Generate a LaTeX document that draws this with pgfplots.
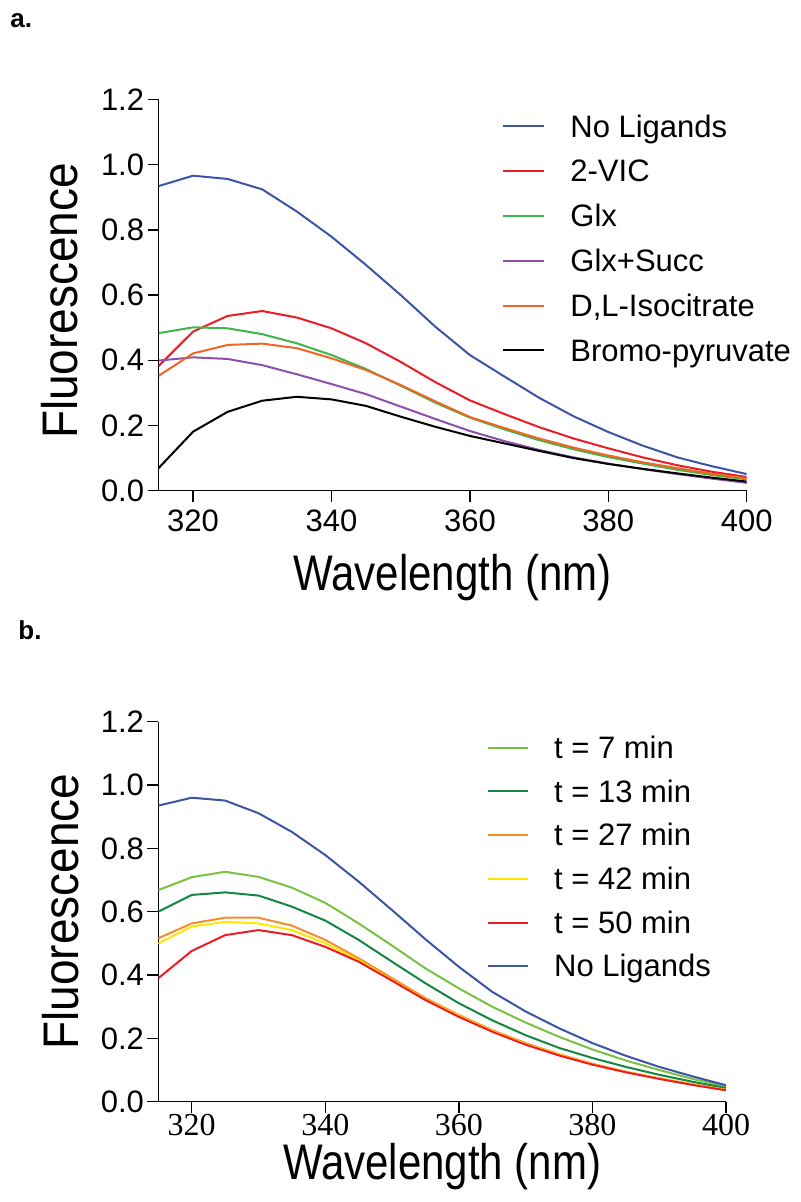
\documentclass[border=0pt]{standalone}
\usepackage{fontspec}
\setmainfont{Liberation Sans}
\newfontfamily\seriffont{Liberation Serif}
\usepackage{graphicx}
\usepackage{pgfplots}
\usepackage{pgfplotstable}
\pgfplotsset{compat=1.18}

\definecolor{cblue}{RGB}{59,84,164}
\definecolor{cred}{RGB}{237,28,36}
\definecolor{cgreen}{RGB}{64,180,75}
\definecolor{cpurple}{RGB}{140,80,170}
\definecolor{corange}{RGB}{242,101,34}
\definecolor{clgreen}{RGB}{122,193,67}
\definecolor{cdgreen}{RGB}{20,135,65}
\definecolor{corangeb}{RGB}{247,140,45}
\definecolor{cyellow}{RGB}{255,230,0}

\pgfplotstableread{
x blue red green purple orange black
315 0.934 0.382 0.483 0.399 0.352 0.069
320 0.966 0.488 0.501 0.409 0.421 0.181
325 0.956 0.536 0.498 0.404 0.447 0.242
330 0.924 0.551 0.480 0.385 0.451 0.276
335 0.856 0.531 0.452 0.357 0.437 0.288
340 0.779 0.498 0.416 0.327 0.406 0.280
345 0.692 0.452 0.373 0.296 0.370 0.260
350 0.600 0.395 0.322 0.258 0.324 0.227
355 0.503 0.333 0.270 0.220 0.274 0.196
360 0.416 0.277 0.224 0.183 0.226 0.168
365 0.350 0.235 0.188 0.152 0.192 0.145
370 0.285 0.195 0.155 0.125 0.160 0.122
375 0.228 0.160 0.127 0.102 0.132 0.100
380 0.180 0.130 0.103 0.083 0.108 0.082
385 0.138 0.102 0.083 0.066 0.087 0.067
390 0.102 0.078 0.064 0.051 0.069 0.053
395 0.075 0.058 0.048 0.037 0.052 0.040
400 0.051 0.042 0.035 0.024 0.038 0.028
}\dataA

\pgfplotstableread{
x lg dg or ye rd bl
315 0.668 0.600 0.516 0.500 0.390 0.935
320 0.709 0.653 0.563 0.553 0.476 0.960
325 0.726 0.661 0.581 0.568 0.526 0.951
330 0.710 0.651 0.581 0.563 0.542 0.911
335 0.676 0.616 0.556 0.542 0.526 0.852
340 0.628 0.572 0.511 0.500 0.489 0.779
345 0.563 0.511 0.453 0.447 0.442 0.695
350 0.493 0.442 0.390 0.384 0.382 0.605
355 0.421 0.374 0.327 0.323 0.321 0.513
360 0.358 0.311 0.274 0.271 0.268 0.426
365 0.300 0.257 0.226 0.223 0.221 0.347
370 0.250 0.210 0.185 0.182 0.180 0.285
375 0.205 0.170 0.150 0.148 0.146 0.232
380 0.165 0.138 0.120 0.118 0.117 0.185
385 0.130 0.110 0.095 0.094 0.093 0.145
390 0.100 0.085 0.074 0.073 0.072 0.110
395 0.072 0.063 0.055 0.054 0.053 0.080
400 0.048 0.043 0.038 0.037 0.036 0.052
}\dataB

\pgfplotsset{
  fluo/.style={
    scale only axis,
    xmin=315, xmax=400, ymin=0, ymax=1.2,
    axis x line*=bottom, axis y line*=left,
    axis line style={line width=0.7pt},
    tick style={black, line width=0.7pt},
    major tick length=5.5pt, tick align=outside,
    xtick={320,340,360,380,400},
    ytick={0,0.2,0.4,0.6,0.8,1.0,1.2},
    minor tick num=0,
    /pgf/number format/assume math mode=true,
    yticklabel={\pgfmathprintnumber[fixed,fixed zerofill,precision=1]{\tick}},
    yticklabel style={font=\fontsize{15.5}{18}\selectfont, inner xsep=1.5pt},
    xticklabel style={font=\fontsize{15.5}{18}\selectfont, inner ysep=4pt},
    ylabel={Fluorescence},
    xlabel={\scalebox{0.84}[1]{Wavelength (nm)}},
    label style={font=\fontsize{25}{30}\selectfont},
    legend cell align=left,
    legend image code/.code={\draw[#1] (0pt,0pt) -- (20.5pt,0pt);},
    every axis plot/.append style={line width=1pt},
  }
}

\begin{document}
\begin{tikzpicture}
\useasboundingbox (0pt,0pt) rectangle (400.5pt,-601pt);
\node[anchor=base west, font=\bfseries\fontsize{13}{15}\selectfont, inner sep=0pt] at (5pt,-13.6pt) {a.};
\node[anchor=base west, font=\bfseries\fontsize{13}{15}\selectfont, inner sep=0pt] at (9pt,-319.5pt) {b.};

\begin{axis}[fluo,
  at={(79.25pt,-245.35pt)}, anchor=south west,
  width=294.1pt, height=195.65pt,
  xlabel style={at={(axis description cs:0.5,-0.254)}, anchor=base},
  ylabel style={at={(axis description cs:-0.137,0.485)}, anchor=base, rotate=0, xscale=0.92},
  legend style={draw=none, fill=none, inner sep=0pt, at={(axis description cs:0.5835,0.9594)}, anchor=north west,
    font=\fontsize{15.5}{18}\selectfont, row sep=11.7pt,
    nodes={inner sep=0pt, text height=10.7pt, text depth=0pt},
    /tikz/every odd column/.append style={column sep=12.65pt}},
]
\addplot[cblue] table[x=x,y=blue]{\dataA};
\addlegendentry{No Ligands}
\addplot[cred] table[x=x,y=red]{\dataA};
\addlegendentry{2-VIC}
\addplot[cgreen] table[x=x,y=green]{\dataA};
\addlegendentry{Glx}
\addplot[cpurple] table[x=x,y=purple]{\dataA};
\addlegendentry{Glx+Succ}
\addplot[corange] table[x=x,y=orange]{\dataA};
\addlegendentry{D,L-Isocitrate}
\addplot[black] table[x=x,y=black]{\dataA};
\addlegendentry{Bromo-pyruvate}
\end{axis}

\begin{axis}[fluo,
  at={(79.15pt,-550.85pt)}, anchor=south west,
  width=283.85pt, height=190pt,
  xticklabel style={font=\seriffont\fontsize{16}{19}\selectfont, inner ysep=0.5pt},
  xlabel style={at={(axis description cs:0.5,-0.2034)}, anchor=base},
  ylabel style={at={(axis description cs:-0.1405,0.5)}, anchor=base, rotate=0, xscale=0.92},
  legend style={draw=none, fill=none, inner sep=0pt, at={(axis description cs:0.5785,0.9608)}, anchor=north west,
    font=\fontsize{15.5}{18}\selectfont, row sep=11.15pt,
    nodes={inner sep=0pt, text height=10.7pt, text depth=0pt},
    /tikz/every odd column/.append style={column sep=12.5pt}},
  legend image code/.code={\draw[#1] (0pt,0pt) -- (20pt,0pt);},
]
\addplot[clgreen] table[x=x,y=lg]{\dataB};
\addlegendentry{t = 7 min}
\addplot[cdgreen] table[x=x,y=dg]{\dataB};
\addlegendentry{t = 13 min}
\addplot[corangeb] table[x=x,y=or]{\dataB};
\addlegendentry{t = 27 min}
\addplot[cyellow] table[x=x,y=ye]{\dataB};
\addlegendentry{t = 42 min}
\addplot[cred] table[x=x,y=rd]{\dataB};
\addlegendentry{t = 50 min}
\addplot[cblue] table[x=x,y=bl]{\dataB};
\addlegendentry{No Ligands}
\end{axis}
\end{tikzpicture}
\end{document}
